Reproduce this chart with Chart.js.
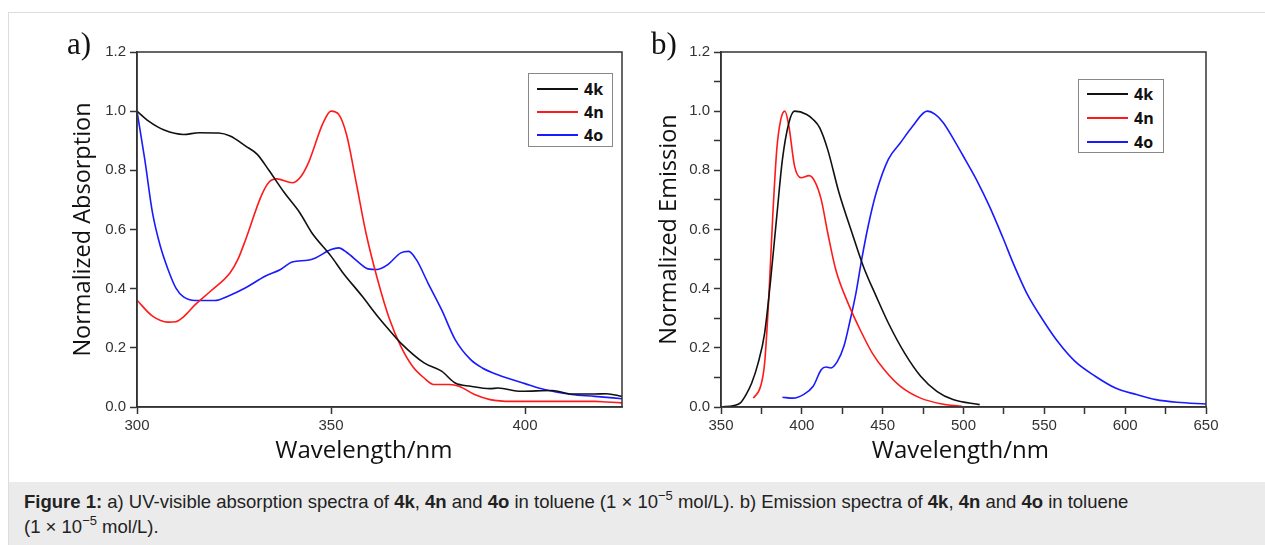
<!DOCTYPE html>
<html>
<head>
<meta charset="utf-8">
<script src="https://cdn.jsdelivr.net/npm/chart.js@4"></script>
<style>
  body { margin: 0; width: 1265px; height: 545px; background: #fff; position: relative; overflow: hidden; font-family: "Liberation Sans", Arial, sans-serif; }
  #frame { position: absolute; left: 8px; top: 12px; width: 1260px; height: 540px; border-top: 1px solid #ddd; border-left: 1px solid #ddd; }
  .panel { position: absolute; top: 0; }
  .tag { position: absolute; font-family: "Liberation Serif", "DejaVu Serif", serif; font-size: 31px; line-height: 1; color: #111; }
  .legend { position: absolute; border: 1px solid #888; background: #fff; font-family: "Open Sans", sans-serif; font-weight: bold; font-size: 16px; color: #111; }
  .legend .row { position: absolute; left: 0; height: 20px; width: 100%; }
  .legend .sw { position: absolute; left: 8px; top: 9px; width: 41px; height: 2px; }
  .legend .lb { position: absolute; left: 55px; top: 0; line-height: 20px; }
  #caption { position: absolute; left: 9px; top: 482px; width: 1256px; height: 63px; background: #ebebeb; font-size: 18.5px; line-height: 25px; color: #222; box-sizing: border-box; padding: 7px 0 0 15px; }
  #caption sup { font-size: 13px; line-height: 0; position: relative; top: -1px; }
</style>
</head>
<body>
<div id="frame"></div>

<canvas id="absChart" class="panel" width="640" height="480" style="left:0px"></canvas>
<canvas id="emChart" class="panel" width="635" height="480" style="left:630px"></canvas>
<div class="tag" style="left:67px; top:28px">a)</div>
<div class="tag" style="left:651px; top:28px">b)</div>
<div id="absLegend" class="legend" style="left:528px; top:73px; width:83px; height:72px"></div>
<div id="emLegend" class="legend" style="left:1078px; top:79px; width:84px; height:72px"></div>

<div id="caption"><b>Figure 1:</b> a) UV-visible absorption spectra of <b>4k</b>, <b>4n</b> and <b>4o</b> in toluene (1 × 10<sup>−5</sup> mol/L). b) Emission spectra of <b>4k</b>, <b>4n</b> and <b>4o</b> in toluene<br>(1 × 10<sup>−5</sup> mol/L).</div>

<script>
// series names and colours
const seriesNames = ['4k', '4n', '4o']
const seriesColors = ['#111111', '#ff1a1a', '#1a1aff']

// a) absorption spectra (wavelength in nm, normalized absorption)
const absWl4k = [300, 303, 307, 312, 316, 321, 324, 328, 331, 334, 338, 342, 345, 350, 353, 358, 362, 365, 368, 374, 378.5, 382, 386, 391, 393, 399, 407, 412, 418, 421, 425]
const abs4k = [1.0, 0.966, 0.936, 0.921, 0.927, 0.926, 0.916, 0.882, 0.854, 0.80, 0.724, 0.656, 0.59, 0.51, 0.455, 0.375, 0.307, 0.26, 0.216, 0.149, 0.121, 0.081, 0.070, 0.062, 0.064, 0.053, 0.056, 0.044, 0.044, 0.045, 0.036]
const absWl4n = [300, 304, 308, 310, 312, 315, 319, 324, 326, 328, 332, 334, 336, 340, 342, 344, 348, 350, 352, 354, 356.5, 359, 362, 365, 368, 371, 374, 376.5, 380.5, 383, 387, 391, 396.5, 402, 418, 421, 425]
const abs4n = [0.361, 0.307, 0.287, 0.288, 0.305, 0.346, 0.392, 0.454, 0.499, 0.566, 0.713, 0.760, 0.771, 0.758, 0.775, 0.820, 0.961, 1.0, 0.989, 0.921, 0.758, 0.589, 0.431, 0.30, 0.205, 0.138, 0.098, 0.076, 0.076, 0.070, 0.042, 0.025, 0.019, 0.019, 0.019, 0.017, 0.014]
const absWl4o = [300, 302, 304, 306, 308, 310, 312, 315, 320, 324, 328, 333, 337, 340, 344, 346, 350, 352, 354, 357.5, 359.5, 362, 364.5, 368, 370, 372, 375, 378.5, 382, 386, 389, 393, 400, 405, 412, 418, 425]
const abs4o = [1.0, 0.837, 0.656, 0.544, 0.465, 0.403, 0.372, 0.360, 0.360, 0.378, 0.403, 0.442, 0.465, 0.490, 0.496, 0.504, 0.532, 0.538, 0.523, 0.485, 0.467, 0.465, 0.48, 0.521, 0.526, 0.498, 0.419, 0.329, 0.228, 0.160, 0.132, 0.109, 0.079, 0.059, 0.042, 0.036, 0.028]

// b) emission spectra
const emWl4k = [350, 358, 362, 365.5, 369, 373, 377, 380.5, 384.5, 388, 392, 395.5, 403, 407, 411, 416, 423, 431, 438, 446, 453.5, 463.5, 473.5, 483.5, 493.5, 510]
const em4k = [0, 0.005, 0.014, 0.042, 0.081, 0.149, 0.25, 0.419, 0.645, 0.837, 0.961, 1.0, 0.989, 0.972, 0.944, 0.870, 0.724, 0.589, 0.476, 0.374, 0.284, 0.183, 0.104, 0.053, 0.025, 0.008]
const emWl4n = [370, 374.5, 377, 379.5, 382, 384.5, 387, 389.5, 392, 395.5, 399.5, 404.5, 408, 412, 416, 421, 428.5, 436, 443.5, 451, 461, 473.5, 486, 499]
const em4n = [0.03, 0.07, 0.149, 0.363, 0.645, 0.87, 0.972, 1.0, 0.949, 0.814, 0.775, 0.782, 0.763, 0.701, 0.589, 0.464, 0.352, 0.262, 0.183, 0.126, 0.07, 0.03, 0.011, 0.002]
const emWl4o = [388, 394.5, 401, 407, 412, 415, 418, 422, 426, 429.5, 433.5, 437, 441, 446, 453.5, 461, 468.5, 477.5, 482.5, 487.5, 494, 501, 509, 516, 524, 531.5, 539, 549, 559, 569, 581.5, 594, 607, 619, 632, 650]
const em4o = [0.033, 0.030, 0.042, 0.070, 0.126, 0.135, 0.132, 0.154, 0.205, 0.284, 0.386, 0.498, 0.611, 0.724, 0.837, 0.893, 0.949, 1.0, 0.989, 0.961, 0.904, 0.837, 0.758, 0.679, 0.577, 0.476, 0.386, 0.295, 0.216, 0.154, 0.104, 0.064, 0.042, 0.025, 0.016, 0.010]

// tick positions
const absTicksX = [300, 350, 400]
const emTicksX = [350, 375, 400, 425, 450, 475, 500, 525, 550, 575, 600, 625, 650]
const absTicksY = [0, 0.2, 0.4, 0.6, 0.8, 1.0, 1.2]
const emTicksY = [0, 0.1, 0.2, 0.3, 0.4, 0.5, 0.6, 0.7, 0.8, 0.9, 1.0, 1.1, 1.2]

const axisColor = '#333'
const tickFont = { family: '"Liberation Sans", Arial, sans-serif', size: 15 }
const xTitleFont = { family: '"Open Sans", sans-serif', size: 24 }
const yTitleFont = { family: '"Open Sans", sans-serif', size: 23.5 }

function zip(xs, ys) {
    let pts = []
    for (let i = 0; i < xs.length; i++) {
        pts.push({ x: xs[i], y: ys[i] })
    }
    return pts
}

function makeDatasets(wls, vals) {
    return seriesNames.map((name, i) => ({
        label: name,
        data: zip(wls[i], vals[i]),
        borderColor: seriesColors[i],
        backgroundColor: seriesColors[i],
        borderWidth: 1.6,
        pointRadius: 0,
        fill: false,
        cubicInterpolationMode: 'monotone',
    }))
}

// box around the plot area
const framePlugin = {
    id: 'frame',
    afterDatasetsDraw(chart) {
        const { ctx, chartArea: a } = chart
        ctx.save()
        ctx.strokeStyle = axisColor
        ctx.lineWidth = 1.5
        ctx.strokeRect(a.left, a.top, a.right - a.left, a.bottom - a.top)
        ctx.restore()
    }
}

function makeChart(id, datasets, opt) {
    const config = {
        type: 'line',
        data: { datasets },
        options: {
            responsive: false,
            animation: false,
            devicePixelRatio: 1,
            layout: { padding: { left: 0, right: opt.padRight, top: 52, bottom: 0 } },
            plugins: { legend: { display: false }, tooltip: { enabled: false } },
            scales: {
                x: {
                    type: 'linear',
                    min: opt.xMin,
                    max: opt.xMax,
                    afterBuildTicks: (s) => { s.ticks = opt.ticksX.map(v => ({ value: v })) },
                    afterFit: (s) => { s.height = 73 },
                    border: { display: true, color: axisColor, width: 1.5 },
                    grid: { drawOnChartArea: false, drawTicks: true, tickLength: 7, color: axisColor, tickWidth: 1.5 },
                    ticks: {
                        autoSkip: false, maxRotation: 0, padding: 3, color: '#333', font: tickFont,
                        callback: (v) => (v % 50 === 0 ? String(v) : '')
                    },
                    // trailing spaces nudge the centred title left like in the figure
                    title: { display: true, text: opt.xTitle, color: '#111', font: xTitleFont, padding: { top: 0, bottom: 14 } }
                },
                y: {
                    type: 'linear',
                    min: 0,
                    max: 1.2,
                    afterBuildTicks: (s) => { s.ticks = opt.ticksY.map(v => ({ value: v })) },
                    afterFit: (s) => { s.width = opt.yWidth },
                    border: { display: true, color: axisColor, width: 1.5 },
                    grid: { drawOnChartArea: false, drawTicks: true, tickLength: 7, color: axisColor, tickWidth: 1.5 },
                    ticks: {
                        autoSkip: false, padding: 4, color: '#333', font: tickFont,
                        callback: (v) => (Math.round(v * 10) % 2 === 0 ? v.toFixed(1) : '')
                    },
                    title: { display: true, text: opt.yTitle, color: '#111', font: yTitleFont, padding: { top: opt.yTitlePad, bottom: 0 } }
                }
            }
        },
        plugins: [framePlugin]
    }
    return new Chart(document.getElementById(id), config)
}

function buildLegend(id, rowTops) {
    const box = document.getElementById(id)
    seriesNames.forEach((name, i) => {
        const row = document.createElement('div')
        row.className = 'row'
        row.style.top = rowTops[i] + 'px'
        row.innerHTML = '<span class="sw" style="background:' + seriesColors[i] + '"></span><span class="lb">' + name + '</span>'
        box.appendChild(row)
    })
}

makeChart('absChart', makeDatasets([absWl4k, absWl4n, absWl4o], [abs4k, abs4n, abs4o]), {
    xMin: 300, xMax: 425, ticksX: absTicksX, ticksY: absTicksY,
    padRight: 18, yWidth: 137, yTitle: 'Normalized Absorption', yTitlePad: 69,
    xTitle: 'Wavelength/nm     '
})
makeChart('emChart', makeDatasets([emWl4k, emWl4n, emWl4o], [em4k, em4n, em4o]), {
    xMin: 350, xMax: 650, ticksX: emTicksX, ticksY: emTicksY,
    padRight: 59, yWidth: 91, yTitle: 'Normalized Emission', yTitlePad: 25,
    xTitle: 'Wavelength/nm '
})
buildLegend('absLegend', [5, 28, 51])
buildLegend('emLegend', [4, 28, 52])
</script>
</body>
</html>
